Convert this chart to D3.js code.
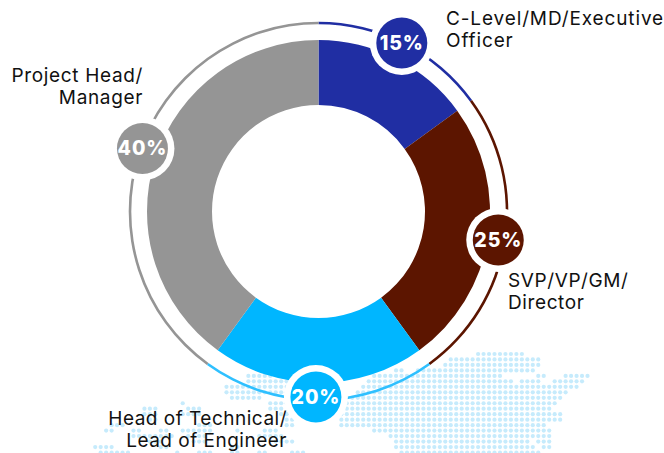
<!DOCTYPE html>
<html><head><meta charset="utf-8">
<script src="https://cdn.jsdelivr.net/npm/d3@7"></script>
<style>html,body{margin:0;padding:0;background:#fff}svg{display:block}text{font-family:Inter,"Noto Sans",sans-serif}</style>
</head><body><div id="c"></div>
<script>
const categories = ["C-Level/MD/Executive Officer","SVP/VP/GM/Director","Head of Technical/Lead of Engineer","Project Head/Manager"];
const shares = [15,25,20,40];
const sliceColors = ["#202ea3","#5c1500","#00b6ff","#959595"];
const ringColors = ["#202ea3","#5c1500","#2fc0ff","#959595"];
const labelLines = [["C-Level/MD/Executive","Officer"],["SVP/VP/GM/","Director"],["Head of Technical/","Lead of Engineer"],["Project Head/","Manager"]];
// decorative dotted map: [row, firstColumn, lastColumn]
const mapRuns = [
[0,70,78],[1,65,81],[2,64,81],[3,55,56],[3,59,80],[4,28,32],[4,51,74],[4,81,82],[4,86,90],
[5,28,35],[5,50,76],[5,78,81],[5,84,89],[6,24,35],[6,49,88],[7,24,35],[7,48,86],
[8,25,30],[8,47,85],[9,16,16],[9,32,35],[9,46,84],[10,9,11],[10,17,19],[10,32,34],[10,45,83],
[11,9,11],[11,16,19],[11,34,35],[11,45,85],[12,10,11],[12,35,36],[12,45,85],[13,3,5],[13,19,21],[13,35,36],[13,45,82],
[14,2,3],[14,7,8],[14,12,13],[14,16,21],[14,26,26],[14,31,33],[14,51,83],
[15,7,14],[15,17,20],[15,30,34],[15,54,83],[16,10,12],[16,18,20],[16,33,36],[16,55,79],[16,81,83],
[17,0,3],[17,12,13],[17,25,26],[17,55,80],[17,82,83],[18,1,6],[18,15,15],[18,19,21],[18,25,26],[18,30,31],[18,36,38],[18,56,81]];
const W=664,H=453,cx=318.5,cy=211.5;
const svg=d3.select("#c").append("svg").attr("width",W).attr("height",H).attr("viewBox",`0 0 ${W} ${H}`);
const colX=d3.scaleLinear().domain([0,90]).range([95.2,587.5]);
const rowY=d3.scaleLinear().domain([0,18]).range([354,452.5]);
const dots=mapRuns.flatMap(([r,a,b])=>d3.range(a,b+1).map(c=>({r,c})));
svg.append("g").selectAll("circle").data(dots).join("circle")
 .attr("cx",d=>colX(d.c)).attr("cy",d=>rowY(d.r)).attr("r",2.1).attr("fill","#c6ebfc");
const pie=d3.pie().sort(null).value(d=>d)(shares);
const g=svg.append("g").attr("transform",`translate(${cx},${cy})`);
const arc=d3.arc().innerRadius(106.5).outerRadius(171.5);
g.selectAll("path.s").data(pie).join("path").attr("class","s").attr("d",arc).attr("fill",(d,i)=>sliceColors[i]);
const ring=d3.arc().innerRadius(187.2).outerRadius(189.8);
g.selectAll("path.r").data(pie).join("path").attr("class","r").attr("d",ring).attr("fill",(d,i)=>ringColors[i]);
const badgeOrbit=[188,182,185.5,187];
const badgeNudgeDeg=[-0.7,0,0.8,1.7];
const pos=pie.map((d,i)=>{const a=(d.startAngle+d.endAngle)/2+badgeNudgeDeg[i]*Math.PI/180;return [badgeOrbit[i]*Math.sin(a),-badgeOrbit[i]*Math.cos(a)];});
const b=g.selectAll("g.b").data(pie).join("g").attr("class","b").attr("transform",(d,i)=>`translate(${pos[i]})`);
b.append("circle").attr("r",32).attr("fill","#fff");
b.append("circle").attr("r",25.5).attr("fill",(d,i)=>sliceColors[i]);
b.append("text").attr("text-anchor","middle").attr("y",7).attr("font-size",19.5).attr("font-weight",800).attr("letter-spacing",0.9).attr("fill","#fff").text(d=>d.value+"%");
const labelAnchor=[{x:446,y:25,a:"start",ls:0.87},{x:508,y:287,a:"start",ls:0.6},{x:287,y:425,a:"end",ls:0.5},{x:143,y:82,a:"end",ls:0.65}];
labelLines.forEach((ls,i)=>{const p=labelAnchor[i];
 ls.forEach((t,j)=>svg.append("text").attr("x",p.x).attr("y",p.y+j*22).attr("text-anchor",p.a)
  .attr("font-size",19).attr("font-weight",400).attr("fill","#111").attr("letter-spacing",p.ls).text(t));});
</script></body></html>
